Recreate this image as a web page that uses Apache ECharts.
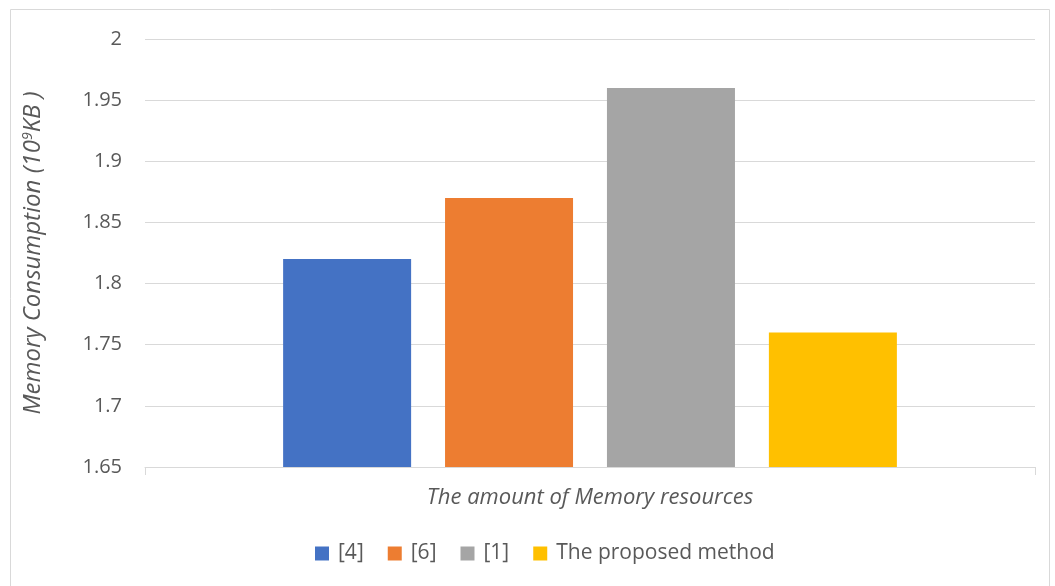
<!DOCTYPE html>
<html>
<head>
<meta charset="utf-8">
<script src="https://cdn.jsdelivr.net/npm/echarts@6/dist/echarts.min.js"></script>
<style>
    html, body { margin: 0; padding: 0; background: #fff; }
    #chart { width: 1055px; height: 586px; }
</style>
</head>
<body>
<div id="chart"></div>
<script>
// data
var categories = ['The amount of Memory resources'];
var seriesNames = ['[4]', '[6]', '[1]', 'The proposed method'];
var seriesColors = ['#4472C4', '#ED7D31', '#A5A5A5', '#FFC000'];
var values4 = [1.82];
var values6 = [1.87];
var values1 = [1.96];
var valuesProposed = [1.76];
var allValues = [values4, values6, values1, valuesProposed];

var font = 'Open Sans';
var textColor = '#595959';

var chart = echarts.init(document.getElementById('chart'));

var series = seriesNames.map(function (name, i) {
    return {
        name: name,
        type: 'bar',
        data: allValues[i],
        barWidth: 128,
        barGap: '26.5%',
        itemStyle: { color: seriesColors[i] }
    };
});

var options = {
    animation: false,
    textStyle: { fontFamily: font },
    graphic: [{
        type: 'rect',
        shape: { x: 10.5, y: 9.5, width: 1039, height: 580 },
        style: { fill: 'none', stroke: '#d9d9d9', lineWidth: 1 },
        silent: true
    }],
    grid: { left: 145, right: 20, top: 39, bottom: 119 },
    legend: {
        top: 538,
        left: 310,
        itemWidth: 14,
        itemHeight: 14,
        itemGap: 24,
        icon: 'rect',
        textStyle: { color: textColor, fontSize: 21, fontFamily: font, padding: [0, 0, 0, 4] }
    },
    xAxis: {
        type: 'category',
        data: categories,
        name: categories[0],
        nameLocation: 'middle',
        nameGap: 20,
        nameTextStyle: { color: textColor, fontSize: 22, fontStyle: 'italic', fontFamily: font },
        axisLine: { lineStyle: { color: '#d9d9d9' } },
        axisTick: { show: true, length: 8, lineStyle: { color: '#d9d9d9' } },
        axisLabel: { show: false }
    },
    yAxis: {
        type: 'value',
        min: 1.65,
        max: 2,
        interval: 0.05,
        name: '{n|Memory Consumption (10}{s|9}{n|KB )}',
        nameLocation: 'middle',
        nameGap: 99,
        nameRotate: 90,
        nameTextStyle: {
            rich: {
                n: { color: textColor, fontSize: 24, fontStyle: 'italic', fontFamily: font },
                s: { color: textColor, fontSize: 14, fontStyle: 'italic', fontFamily: font, verticalAlign: 'top', padding: [0, 0, 11, 0] }
            }
        },
        axisLine: { show: false },
        axisTick: { show: false },
        axisLabel: {
            color: textColor,
            fontSize: 20,
            margin: 23,
            formatter: function (v) { return String(+v.toFixed(2)); }
        },
        splitLine: { lineStyle: { color: '#d9d9d9' } }
    },
    series: series
};

chart.setOption(options);
</script>
</body>
</html>
